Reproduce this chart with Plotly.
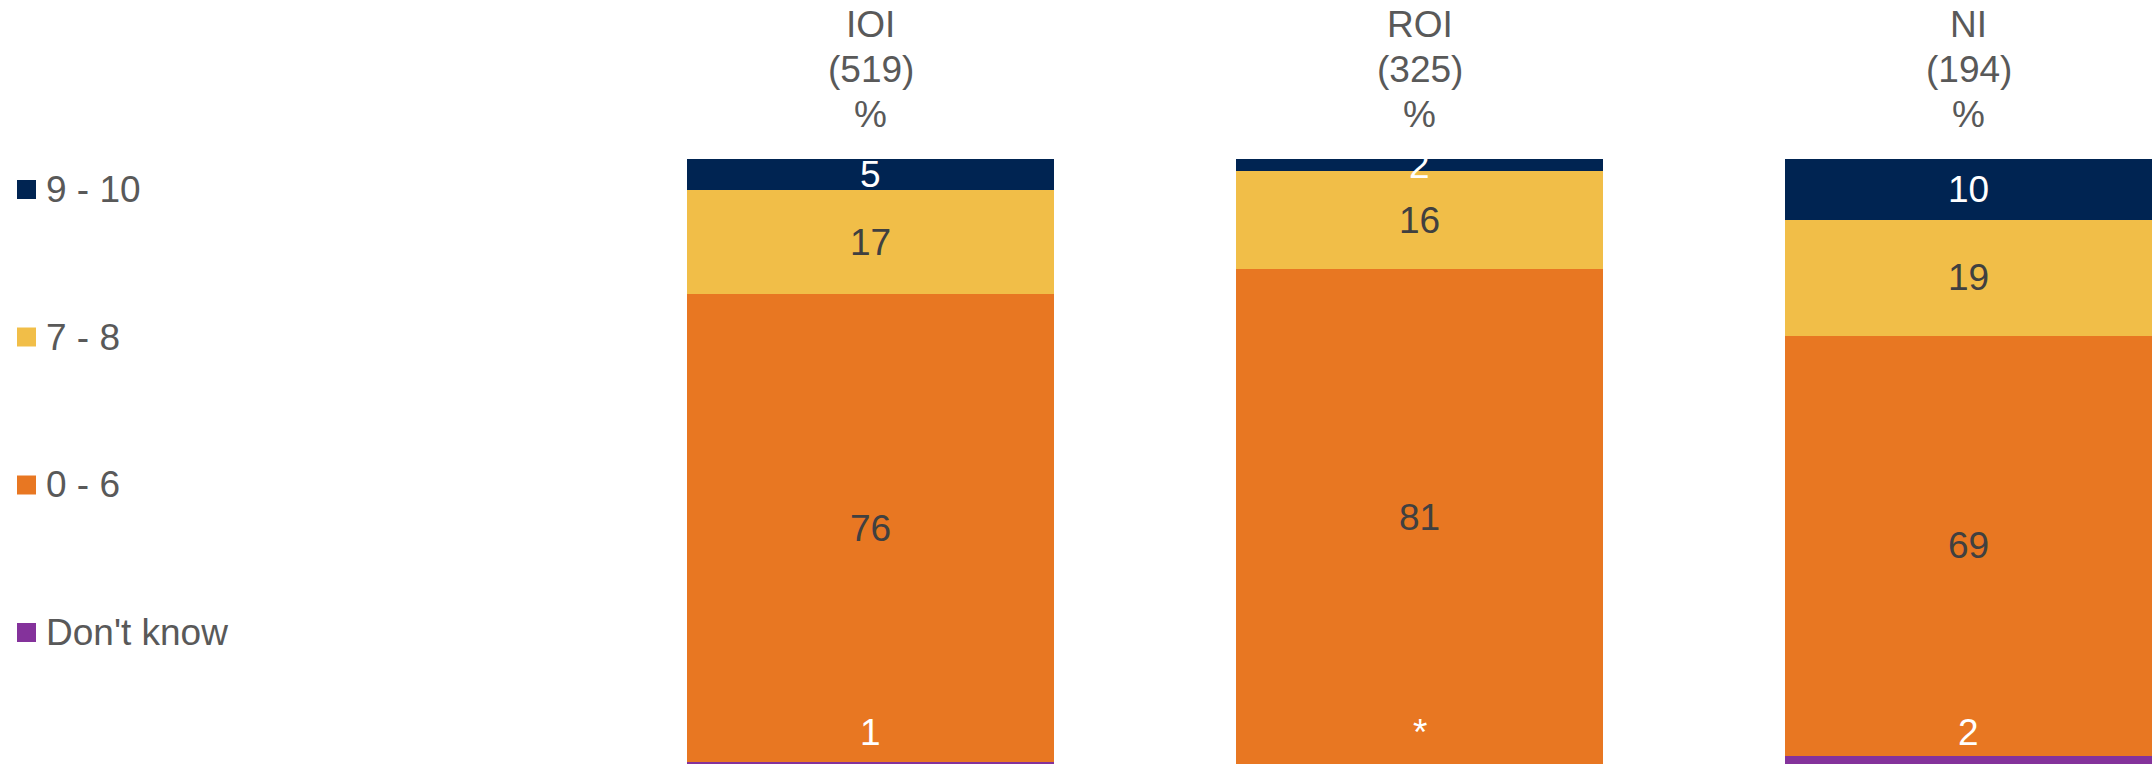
import plotly.graph_objects as go

# ---- data ----
categories = ["IOI", "ROI", "NI"]
bases = ["(519)", "(325)", "(194)"]
series_names = ["Don't know", "0 - 6", "7 - 8", "9 - 10"]
dont_know = [1, 0.3, 2]
score_0_6 = [76, 81, 69]
score_7_8 = [17, 16, 19]
score_9_10 = [5, 2, 10]
dont_know_labels = ["1", "*", "2"]

series_values = [dont_know, score_0_6, score_7_8, score_9_10]
colors = ["#84329B", "#E87722", "#F1BE48", "#002452"]
label_colors = ["#FFFFFF", "#404040", "#404040", "#FFFFFF"]

W, H = 2153, 764
ML, MT, MB, MR = 596, 159, 0, 0
FONT = "Liberation Sans, Arial, sans-serif"
GREY = "#595959"

fig = go.Figure()
for name, vals, col in zip(series_names, series_values, colors):
    fig.add_trace(go.Bar(x=categories, y=vals, name=name, marker=dict(color=col, line=dict(width=0)),
                         width=0.667, showlegend=False, hoverinfo="skip"))


def py2paper(py):
    return (H - MB - py) / (H - MB - MT)


def px2paper(px):
    return (px - ML) / (W - ML - MR)


# value labels (positions derived from normalized data)
annotations = []
for ci, cat in enumerate(categories):
    total = sum(s[ci] for s in series_values)
    cum = 0
    for si, s in enumerate(series_values):
        v = s[ci]
        pct = v / total * 100
        mid = cum + pct / 2
        cum += pct
        if si == 0:
            annotations.append(dict(x=cat, y=py2paper(732), xref="x", yref="paper", text=dont_know_labels[ci],
                                    showarrow=False, yanchor="middle",
                                    font=dict(family=FONT, size=37, color=label_colors[si])))
        else:
            annotations.append(dict(x=cat, y=mid, xref="x", yref="y", text=str(v),
                                    showarrow=False, yanchor="middle",
                                    font=dict(family=FONT, size=37, color=label_colors[si])))

# column headers
header_centers = [24, 69, 114]
for ci, cat in enumerate(categories):
    for line, yc in zip([cat, bases[ci], "%"], header_centers):
        annotations.append(dict(x=cat, y=py2paper(yc), xref="x", yref="paper", text=line,
                                showarrow=False, yanchor="middle",
                                font=dict(family=FONT, size=37, color=GREY)))

# manual legend (top to bottom: 9-10, 7-8, 0-6, Don't know)
legend_centers = [189.5, 337, 485, 632.5]
shapes = []
for k, si in enumerate([3, 2, 1, 0]):
    yc = legend_centers[k]
    shapes.append(dict(type="rect", xref="paper", yref="paper",
                       x0=px2paper(17), x1=px2paper(36),
                       y0=py2paper(yc + 9.5), y1=py2paper(yc - 9.5),
                       fillcolor=colors[si], line=dict(width=0)))
    annotations.append(dict(x=px2paper(44), y=py2paper(yc), xref="paper", yref="paper",
                            text=series_names[si], showarrow=False, xanchor="left", yanchor="middle",
                            font=dict(family=FONT, size=37, color=GREY)))

ppp = 6.09  # pixels per percent
y0 = 100 - (H - MB - MT) / ppp

fig.update_layout(
    width=W, height=H, autosize=False,
    margin=dict(l=ML, r=MR, t=MT, b=MB, pad=0),
    barmode="stack", barnorm="percent", bargap=0.333,
    plot_bgcolor="white", paper_bgcolor="white",
    xaxis=dict(range=[-0.5, -0.5 + (W - ML - MR) / 549.0], visible=False, fixedrange=True),
    yaxis=dict(range=[y0, 100], visible=False, fixedrange=True),
    annotations=annotations, shapes=shapes,
    showlegend=False,
)

fig.write_html("out.html", config={"displayModeBar": False},
               post_script="document.body.style.margin='0';document.body.style.overflow='hidden';")
